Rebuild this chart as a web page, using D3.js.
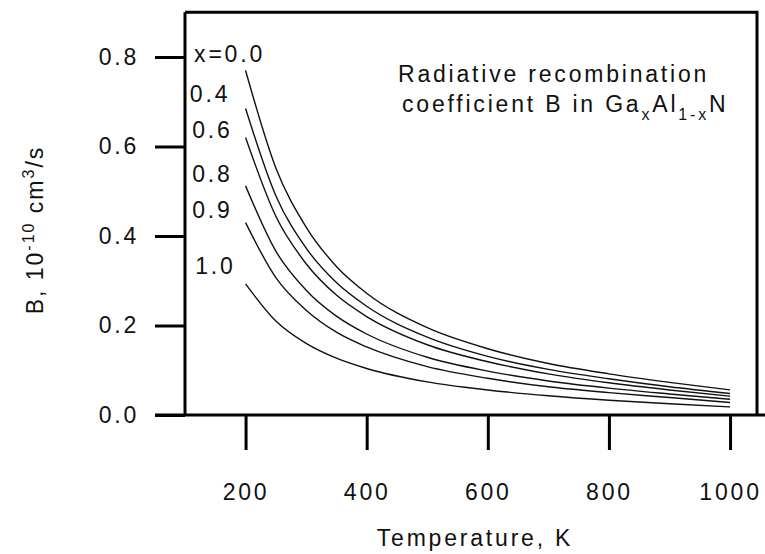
<!DOCTYPE html>
<html>
<head>
<meta charset="utf-8">
<script src="https://cdn.jsdelivr.net/npm/d3@7"></script>
<style>
  body { margin: 0; background: #fff; }
  svg text { font-family: "Liberation Sans", Arial, sans-serif; fill: #111; }
</style>
</head>
<body>
<div id="chart"></div>
<script>
// temperature grid (K) and B values (1e-10 cm^3/s)
const temps = [200, 250, 300, 350, 400, 500, 600, 700, 800, 900, 1000]
const b_x00 = [0.770, 0.552, 0.420, 0.332, 0.272, 0.195, 0.148, 0.115, 0.092, 0.073, 0.056]
const b_x04 = [0.685, 0.490, 0.373, 0.296, 0.243, 0.174, 0.131, 0.102, 0.081, 0.063, 0.048]
const b_x06 = [0.620, 0.444, 0.338, 0.268, 0.220, 0.157, 0.119, 0.092, 0.072, 0.056, 0.042]
const b_x08 = [0.512, 0.366, 0.279, 0.221, 0.181, 0.129, 0.098, 0.076, 0.060, 0.047, 0.035]
const b_x09 = [0.430, 0.307, 0.234, 0.185, 0.152, 0.108, 0.082, 0.063, 0.050, 0.039, 0.028]
const b_x10 = [0.293, 0.210, 0.160, 0.127, 0.104, 0.074, 0.056, 0.043, 0.033, 0.025, 0.018]
const seriesNames = ["x=0.0", "0.4", "0.6", "0.8", "0.9", "1.0"]
const labelT = [115, 108, 112, 112, 112, 117]
const labelB = [0.789, 0.699, 0.619, 0.521, 0.440, 0.315]
const xTicks = [200, 400, 600, 800, 1000]
const yTicks = [0.0, 0.2, 0.4, 0.6, 0.8]

const series = [b_x00, b_x04, b_x06, b_x08, b_x09, b_x10]

const width = 765, height = 554
const fs = 23, ls = 2.8

const x = d3.scaleLinear().domain([100, 1044.5]).range([185, 757])
const y = d3.scaleLinear().domain([0, 0.9]).range([415, 12.25])

const svg = d3.select("#chart").append("svg")
    .attr("width", width)
    .attr("height", height)

svg.append("rect").attr("width", width).attr("height", height).attr("fill", "#fff")

// curves
const line = d3.line()
    .x(d => x(d[0]))
    .y(d => y(d[1]))
    .curve(d3.curveMonotoneX)

svg.append("g")
    .selectAll("path")
    .data(series)
    .join("path")
    .attr("d", s => line(temps.map((t, i) => [t, s[i]])))
    .attr("fill", "none")
    .attr("stroke", "#111")
    .attr("stroke-width", 1.4)

// curve labels
svg.append("g")
    .attr("font-size", fs)
    .attr("letter-spacing", ls)
    .selectAll("text")
    .data(seriesNames)
    .join("text")
    .attr("x", (d, i) => x(labelT[i]))
    .attr("y", (d, i) => y(labelB[i]))
    .text(d => d)

// frame: top + right
svg.append("path")
    .attr("d", `M${x(100)},${y(0.9)}H${x.range()[1]}V${y(0)}`)
    .attr("fill", "none")
    .attr("stroke", "#000")
    .attr("stroke-width", 3)

// axes
const yAxis = g => g
    .attr("transform", `translate(${x(100)},0)`)
    .call(d3.axisLeft(y).tickValues(yTicks).tickSize(30).tickPadding(16).tickFormat(d3.format(".1f")))
    .call(g => g.select(".domain").attr("d", `M0,${y(0.9)}V${y(0)}`))
    .call(g => g.selectAll("line, .domain").attr("stroke", "#000").attr("stroke-width", 3))
    .call(g => g.selectAll("text").attr("font-size", fs).attr("letter-spacing", ls).attr("fill", "#111"))

const xAxis = g => g
    .attr("transform", `translate(0,${y(0)})`)
    .call(d3.axisBottom(x).tickValues(xTicks).tickSize(35).tickPadding(34).tickFormat(d3.format("d")))
    .call(g => g.select(".domain").attr("d", `M155,0H765`))
    .call(g => g.selectAll("line, .domain").attr("stroke", "#000").attr("stroke-width", 3))
    .call(g => g.selectAll("text").attr("font-size", fs).attr("letter-spacing", ls).attr("fill", "#111"))

svg.append("g").call(yAxis)
svg.append("g").call(xAxis)

// axis titles
svg.append("text")
    .attr("x", 475)
    .attr("y", 546)
    .attr("text-anchor", "middle")
    .attr("font-size", fs)
    .attr("letter-spacing", ls)
    .text("Temperature, K")

const yt = svg.append("text")
    .attr("transform", "translate(43,230) rotate(-90)")
    .attr("text-anchor", "middle")
    .attr("font-size", fs)
    .attr("letter-spacing", 2)
yt.append("tspan").text("B, 10")
yt.append("tspan").attr("dy", -9).attr("font-size", 16).text("-10")
yt.append("tspan").attr("dy", 9).text(" cm")
yt.append("tspan").attr("dy", -9).attr("font-size", 16).text("3")
yt.append("tspan").attr("dy", 9).text("/s")

// annotation
const note = svg.append("g").attr("font-size", fs).attr("letter-spacing", ls)
note.append("text").attr("x", 398).attr("y", 82).text("Radiative recombination")
const l2 = note.append("text").attr("x", 402).attr("y", 112)
l2.append("tspan").text("coefficient B in Ga")
l2.append("tspan").attr("dy", 8).attr("font-size", 16).text("x")
l2.append("tspan").attr("dy", -8).text("Al")
l2.append("tspan").attr("dy", 8).attr("font-size", 16).text("1-x")
l2.append("tspan").attr("dy", -8).text("N")
</script>
</body>
</html>
